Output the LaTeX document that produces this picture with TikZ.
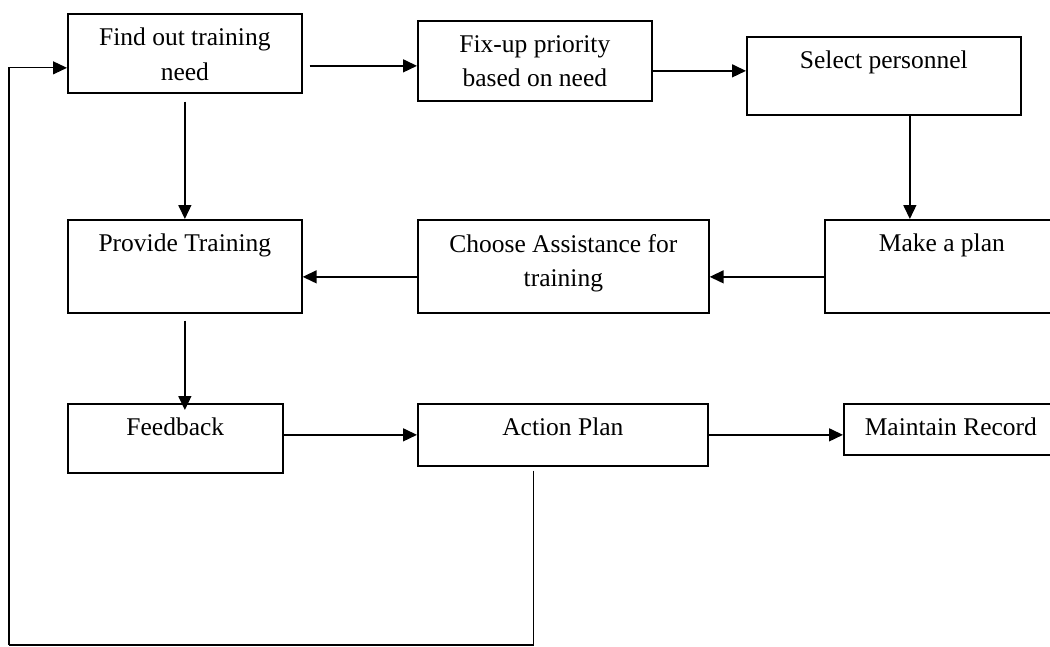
\documentclass[tikz,border=0pt]{standalone}
\usepackage{fontspec}
\setmainfont{Liberation Serif}
\usetikzlibrary{arrows.meta}

\begin{document}
\begin{tikzpicture}[x=1pt,y=-1pt,
	box/.style 2 args={draw,line width=1.7pt,anchor=north west,inner sep=0pt,minimum width=#1,minimum height=#2},
	txt/.style={anchor=north,yshift=-15pt,inner sep=0pt,align=center,font=\fontsize{25.5}{34.5}\selectfont},
	arr/.style={line width=1.5pt,-{Triangle[length=14pt,width=13pt]}}]
	\useasboundingbox (0,0) rectangle (1050,646);
	\node[box={234pt}{79pt},label={[txt]north:Find out training\\need}] (find) at (67,13) {};
	\node[box={234pt}{80pt},label={[txt]north:Fix-up priority\\based on need}] (fix) at (417,20) {};
	\node[box={274pt}{78pt},label={[txt]north:Select personnel}] (sel) at (746,36) {};
	\node[box={234pt}{93pt},label={[txt]north:Provide Training}] (prov) at (67,219) {};
	\node[box={291pt}{93pt},label={[txt]north:Choose Assistance for\\training}] (cho) at (417,219) {};
	\node[box={234pt}{93pt},label={[txt]north:Make a plan}] (make) at (824,219) {};
	\node[box={215pt}{69pt},label={[txt]north:Feedback}] (feed) at (67,403) {};
	\node[box={290pt}{62pt},label={[txt]north:Action Plan}] (act) at (417,403) {};
	\node[box={214pt}{51pt},label={[txt]north:Maintain Record}] (rec) at (843,403) {};
	\coordinate (back) at (9,645);
	\draw[arr] ([xshift=7pt,yshift=-12.5pt]find.east) -- ([yshift=-12.5pt]find.east -| fix.west);
	\draw[arr] ([yshift=-10pt]fix.east) -- ([yshift=-10pt]fix.east -| sel.west);
	\draw[arr] ([yshift=-8pt]find.south) -- (prov.north);
	\draw[arr] ([xshift=26pt]sel.south) -- ([xshift=26pt]sel.south |- make.north);
	\draw[arr] ([yshift=-10.5pt]make.west) -- ([yshift=-10.5pt]make.west -| cho.east);
	\draw[arr] ([yshift=-10.5pt]cho.west) -- ([yshift=-10.5pt]cho.west -| prov.east);
	\draw[arr] ([yshift=-7pt]prov.south) -- ([yshift=-7pt]prov.south |- feed.north);
	\draw[arr] (act.west -| feed.east) -- (act.west);
	\draw[arr] (act.east) -- (act.east -| rec.west);
	\draw[line width=1.1pt] ([xshift=-29pt,yshift=-4pt]act.south) |- (back);
	\draw[arr,line width=1.1pt] (back) |- ([yshift=-14.5pt]find.west);
\end{tikzpicture}
\end{document}
